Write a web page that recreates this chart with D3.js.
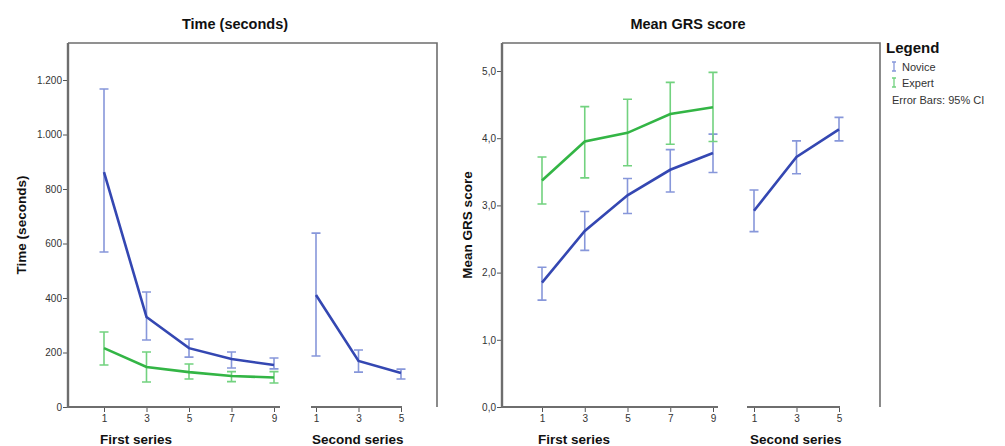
<!DOCTYPE html>
<html><head><meta charset="utf-8">
<script src="https://cdn.jsdelivr.net/npm/d3@7"></script>
<style>
body{margin:0;background:#fff;}
text{font-family:"Liberation Sans",Arial,sans-serif;}
</style></head>
<body><svg id="c" width="1005" height="446"></svg>
<script>
// ---- data ----
const firstSessions = [1,3,5,7,9];
const secondSessions = [1,3,5];
// Time (seconds)
const timeNoviceFirst = [862,330,216,176,154];
const timeNoviceFirstLo = [569,246,183,143,140];
const timeNoviceFirstHi = [1167,422,249,202,180];
const timeExpertFirst = [216,147,128,114,108];
const timeExpertFirstLo = [154,92,103,93,88];
const timeExpertFirstHi = [275,202,158,130,130];
const timeNoviceSecond = [411,169,125];
const timeNoviceSecondLo = [187,128,103];
const timeNoviceSecondHi = [638,209,139];
const timeTicks = [0,200,400,600,800,1000,1200];
const timeTickLabels = ["0","200","400","600","800","1.000","1.200"];
// Mean GRS score
const grsNoviceFirst = [1.85,2.62,3.15,3.53,3.78];
const grsNoviceFirstLo = [1.59,2.33,2.88,3.20,3.49];
const grsNoviceFirstHi = [2.08,2.91,3.40,3.83,4.06];
const grsExpertFirst = [3.37,3.95,4.08,4.36,4.46];
const grsExpertFirstLo = [3.02,3.41,3.59,3.91,3.95];
const grsExpertFirstHi = [3.72,4.47,4.58,4.83,4.98];
const grsNoviceSecond = [2.92,3.72,4.13];
const grsNoviceSecondLo = [2.61,3.47,3.96];
const grsNoviceSecondHi = [3.23,3.96,4.31];
const grsTicks = [0,1,2,3,4,5];
const grsTickLabels = ["0,0","1,0","2,0","3,0","4,0","5,0"];
const legendItems = ["Novice","Expert"];

// ---- style ----
const colNoviceLine = "#3447b2", colNoviceBar = "#8797da";
const colExpertLine = "#33b545", colExpertBar = "#72d27f";
const axisCol = "#6e6e6e";

const svg = d3.select("#c");

function zip(xs, m, lo, hi){ return xs.map((x,i)=>({x, m:m[i], lo:lo[i], hi:hi[i]})); }

function drawChart(cfg){
  const g = svg.append("g");
  const y = d3.scaleLinear().domain(cfg.yDomain).range(cfg.yRange);
  const bottom = y(0);
  // frame: top & right
  g.append("path")
    .attr("d", `M${cfg.left},${cfg.top}H${cfg.right}V${bottom}`)
    .attr("fill","none").attr("stroke",axisCol).attr("stroke-width",1.6);
  // y axis
  const ya = g.append("g").attr("transform",`translate(${cfg.left},0)`)
    .call(d3.axisLeft(y).tickValues(cfg.yTicks).tickSize(5).tickSizeOuter(0)
      .tickFormat((d,i)=>cfg.yTickLabels[i]));
  ya.select(".domain").remove();
  ya.selectAll(".tick line").attr("stroke","#555");
  ya.selectAll(".tick text").attr("font-size",10).attr("fill","#333").attr("x",-6);
  g.append("line").attr("x1",cfg.left).attr("x2",cfg.left).attr("y1",cfg.top).attr("y2",bottom+1)
    .attr("stroke",axisCol).attr("stroke-width",2.4);
  // panels
  cfg.panels.forEach(p=>{
    const x = d3.scaleLinear().domain([p.cats[0], p.cats[p.cats.length-1]]).range(p.range);
    const xa = g.append("g").attr("transform",`translate(0,${bottom})`)
      .call(d3.axisBottom(x).tickValues(p.cats).tickSize(5).tickSizeOuter(0).tickFormat(d3.format("d")));
    xa.select(".domain").remove();
    xa.selectAll(".tick line").attr("stroke","#555");
    xa.selectAll(".tick text").attr("font-size",10).attr("fill","#333").attr("y",8);
    g.append("line").attr("x1",p.axisExtent[0]).attr("x2",p.axisExtent[1])
      .attr("y1",bottom).attr("y2",bottom).attr("stroke",axisCol).attr("stroke-width",2.2);
    g.append("text").attr("x", x(p.cats[0]) - 4).attr("y", 444)
      .attr("font-size",13.5).attr("font-weight","bold").attr("fill","#111").text(p.label);
    p.series.forEach(s=>{
      const pts = zip(p.cats, s.m, s.lo, s.hi);
      const eb = g.append("g").attr("stroke", s.bar).attr("stroke-width",1.6).attr("fill","none");
      pts.forEach(d=>{
        const cx = x(d.x);
        eb.append("path").attr("d",
          `M${cx},${y(d.lo)}V${y(d.hi)}M${cx-4.5},${y(d.lo)}H${cx+4.5}M${cx-4.5},${y(d.hi)}H${cx+4.5}`);
      });
      g.append("path").datum(pts)
        .attr("d", d3.line().x(d=>x(d.x)).y(d=>y(d.m)))
        .attr("fill","none").attr("stroke", s.line).attr("stroke-width",2.6);
    });
  });
  // titles
  g.append("text").attr("x",cfg.titleX).attr("y",29).attr("text-anchor","middle")
    .attr("font-size",14.5).attr("font-weight","bold").attr("fill","#111").text(cfg.title);
  g.append("text").attr("transform",`translate(${cfg.yTitleX},${(cfg.top+bottom)/2}) rotate(-90)`)
    .attr("text-anchor","middle").attr("font-size",13.5).attr("font-weight","bold").attr("fill","#111")
    .text(cfg.title);
}

drawChart({
  title:"Time (seconds)", titleX:235, yTitleX:26,
  left:68, right:437, top:43,
  yDomain:[0,1200], yRange:[407,80], yTicks:timeTicks, yTickLabels:timeTickLabels,
  panels:[
    {cats:firstSessions, range:[104,274], axisExtent:[68,280], label:"First series",
     series:[
       {m:timeNoviceFirst, lo:timeNoviceFirstLo, hi:timeNoviceFirstHi, line:colNoviceLine, bar:colNoviceBar},
       {m:timeExpertFirst, lo:timeExpertFirstLo, hi:timeExpertFirstHi, line:colExpertLine, bar:colExpertBar}
     ]},
    {cats:secondSessions, range:[316,401], axisExtent:[311,402], label:"Second series",
     series:[
       {m:timeNoviceSecond, lo:timeNoviceSecondLo, hi:timeNoviceSecondHi, line:colNoviceLine, bar:colNoviceBar}
     ]}
  ]
});

drawChart({
  title:"Mean GRS score", titleX:688, yTitleX:472,
  left:502, right:880, top:43,
  yDomain:[0,5], yRange:[407,71], yTicks:grsTicks, yTickLabels:grsTickLabels,
  panels:[
    {cats:firstSessions, range:[542,713], axisExtent:[502,718], label:"First series",
     series:[
       {m:grsNoviceFirst, lo:grsNoviceFirstLo, hi:grsNoviceFirstHi, line:colNoviceLine, bar:colNoviceBar},
       {m:grsExpertFirst, lo:grsExpertFirstLo, hi:grsExpertFirstHi, line:colExpertLine, bar:colExpertBar}
     ]},
    {cats:secondSessions, range:[754,839], axisExtent:[747,840], label:"Second series",
     series:[
       {m:grsNoviceSecond, lo:grsNoviceSecondLo, hi:grsNoviceSecondHi, line:colNoviceLine, bar:colNoviceBar}
     ]}
  ]
});

// legend
const lg = svg.append("g");
lg.append("text").attr("x",886).attr("y",53).attr("font-size",15).attr("font-weight","bold")
  .attr("fill","#111").text("Legend");
const legendCols = [colNoviceBar, colExpertBar];
legendItems.forEach((name,i)=>{
  const yy = 71 + i*16;
  lg.append("path").attr("d",`M894,${yy-9}V${yy}M892,${yy-9}H896M892,${yy}H896`)
    .attr("stroke",legendCols[i]).attr("stroke-width",1.3).attr("fill","none");
  lg.append("text").attr("x",902).attr("y",yy).attr("font-size",11).attr("fill","#333").text(name);
});
lg.append("text").attr("x",892).attr("y",104).attr("font-size",11).attr("fill","#333").text("Error Bars: 95% CI");
</script></body></html>
